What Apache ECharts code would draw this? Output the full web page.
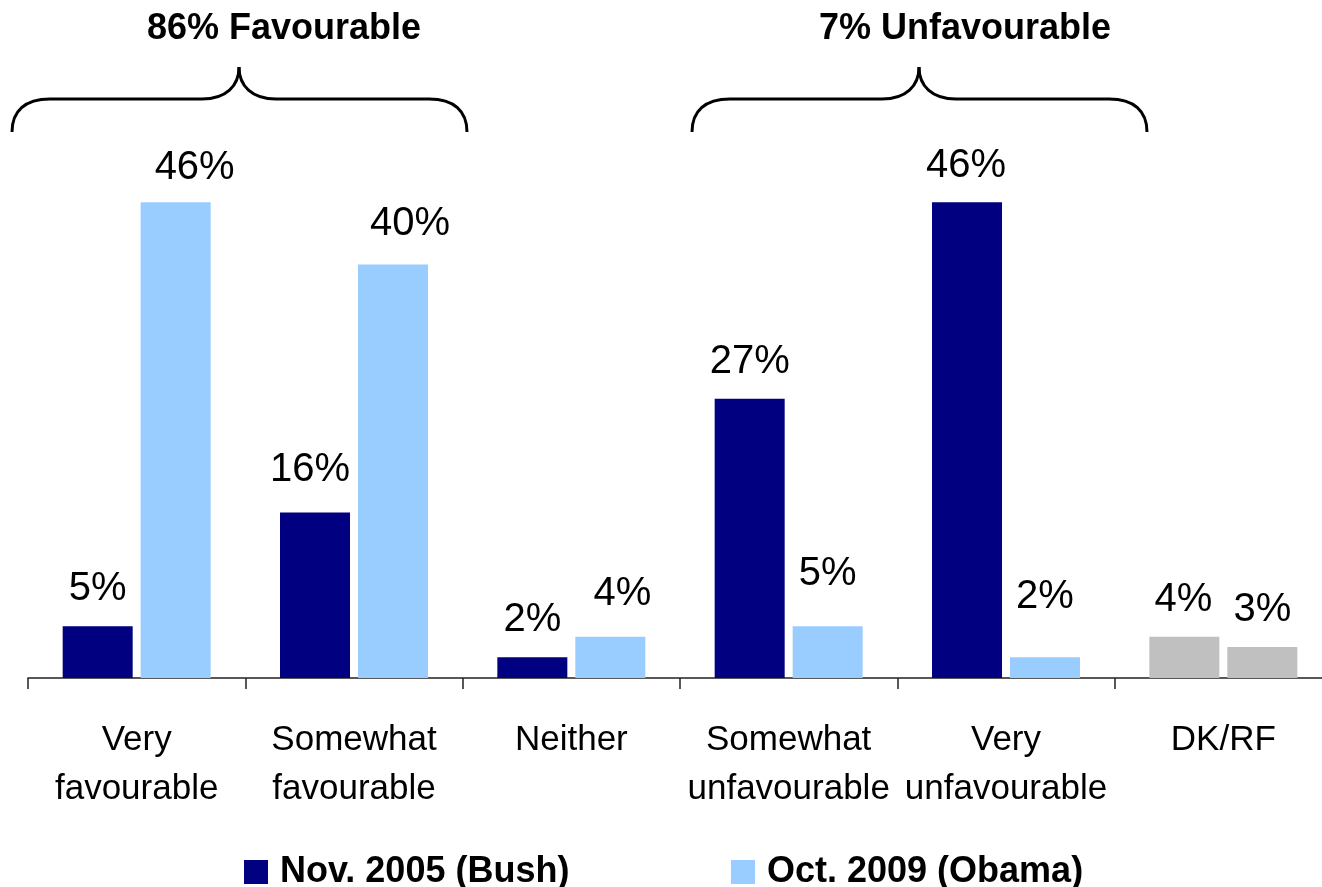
<!DOCTYPE html>
<html>
<head>
<meta charset="utf-8">
<script src="https://cdn.jsdelivr.net/npm/echarts@6/dist/echarts.min.js"></script>
<style>
html,body{margin:0;padding:0;background:#fff;}
#chart{width:1322px;height:887px;}
</style>
</head>
<body>
<div id="chart"></div>
<script>
var categories = ['Very\nfavourable', 'Somewhat\nfavourable', 'Neither', 'Somewhat\nunfavourable', 'Very\nunfavourable', 'DK/RF'];
var seriesNames = ['Nov. 2005 (Bush)', 'Oct. 2009 (Obama)'];
var bushValues = [5, 16, 2, 27, 46, 4];
var obamaValues = [46, 40, 4, 5, 2, 3];
var bracketTitles = ['86% Favourable', '7% Unfavourable'];

// styling (not data)
var colors = ['#000080', '#99CCFF'];
var otherColor = '#C0C0C0';
var bushLabelOffsets = [[0, 0], [-5, -6], [0, 0], [0, 0], [-1, 1], [-1, 0]];
var obamaLabelOffsets = [[19, 3], [17, -3], [12, -6], [0, -15], [0, -23], [0, 0]];
var FONT = '"Liberation Sans", Arial, Helvetica, sans-serif';

function buildData(values, color, offsets) {
  return values.map(function (v, i) {
    return {
      value: v,
      itemStyle: { color: categories[i] === 'DK/RF' ? otherColor : color },
      label: { offset: offsets[i] }
    };
  });
}

var braceStyle = { stroke: '#000', lineWidth: 3, fill: null };
function brace(left, mid, right) {
  var yEnd = 132, yH = 99, yPeak = 67;
  return [
    { type: 'bezierCurve', shape: { x1: left, y1: yEnd, cpx1: left, cpy1: 111, cpx2: left + 13, cpy2: yH, x2: left + 38, y2: yH }, style: braceStyle },
    { type: 'line', shape: { x1: left + 38, y1: yH, x2: mid - 37, y2: yH }, style: braceStyle },
    { type: 'bezierCurve', shape: { x1: mid - 37, y1: yH, cpx1: mid - 13, cpy1: yH, cpx2: mid, cpy2: 86, x2: mid, y2: yPeak }, style: braceStyle },
    { type: 'bezierCurve', shape: { x1: mid, y1: yPeak, cpx1: mid, cpy1: 86, cpx2: mid + 13, cpy2: yH, x2: mid + 37, y2: yH }, style: braceStyle },
    { type: 'line', shape: { x1: mid + 37, y1: yH, x2: right - 38, y2: yH }, style: braceStyle },
    { type: 'bezierCurve', shape: { x1: right - 38, y1: yH, cpx1: right - 13, cpy1: yH, cpx2: right, cpy2: 111, x2: right, y2: yEnd }, style: braceStyle }
  ];
}

var chart = echarts.init(document.getElementById('chart'));

var labelCommon = {
  show: true,
  position: 'top',
  distance: 17,
  formatter: '{c}%',
  color: '#000',
  fontFamily: FONT,
  fontSize: 40,
  lineHeight: 40
};

var graphics = [].concat(brace(12, 239, 467), brace(692, 919, 1147), [
  { type: 'text', x: 284, y: 29, style: { text: bracketTitles[0], fill: '#000', font: 'bold 36px ' + FONT, align: 'center', verticalAlign: 'middle' } },
  { type: 'text', x: 965, y: 29, style: { text: bracketTitles[1], fill: '#000', font: 'bold 36px ' + FONT, align: 'center', verticalAlign: 'middle' } }
]);

var option = {
  backgroundColor: '#fff',
  animation: false,
  grid: { left: 28, right: -10, top: 161, bottom: 209, containLabel: false, outerBoundsMode: 'none' },
  legend: [
    {
      data: [seriesNames[0]],
      left: 239, top: 849,
      icon: 'rect', itemWidth: 24, itemHeight: 24,
      selectedMode: false,
      textStyle: { fontFamily: FONT, fontSize: 36, fontWeight: 'bold', color: '#000', padding: [0, 0, 0, 7] }
    },
    {
      data: [seriesNames[1]],
      left: 726, top: 849,
      icon: 'rect', itemWidth: 24, itemHeight: 24,
      selectedMode: false,
      textStyle: { fontFamily: FONT, fontSize: 36, fontWeight: 'bold', color: '#000', padding: [0, 0, 0, 7] }
    }
  ],
  xAxis: {
    type: 'category',
    data: categories,
    axisLine: { lineStyle: { color: '#222', width: 1.5 } },
    axisTick: { show: true, length: 11, lineStyle: { color: '#222', width: 1.5 } },
    axisLabel: {
      interval: 0,
      margin: 38,
      color: '#000',
      fontFamily: FONT,
      fontSize: 35,
      lineHeight: 49,
      hideOverlap: false
    },
    splitLine: { show: false }
  },
  yAxis: {
    type: 'value',
    min: 0, max: 50,
    show: false,
    splitLine: { show: false }
  },
  series: [
    {
      name: seriesNames[0],
      type: 'bar',
      barWidth: 70,
      barGap: '11.4%',
      itemStyle: { color: colors[0] },
      label: labelCommon,
      data: buildData(bushValues, colors[0], bushLabelOffsets)
    },
    {
      name: seriesNames[1],
      type: 'bar',
      barWidth: 70,
      barGap: '11.4%',
      itemStyle: { color: colors[1] },
      label: labelCommon,
      data: buildData(obamaValues, colors[1], obamaLabelOffsets)
    }
  ],
  graphic: graphics
};

chart.setOption(option);
</script>
</body>
</html>
